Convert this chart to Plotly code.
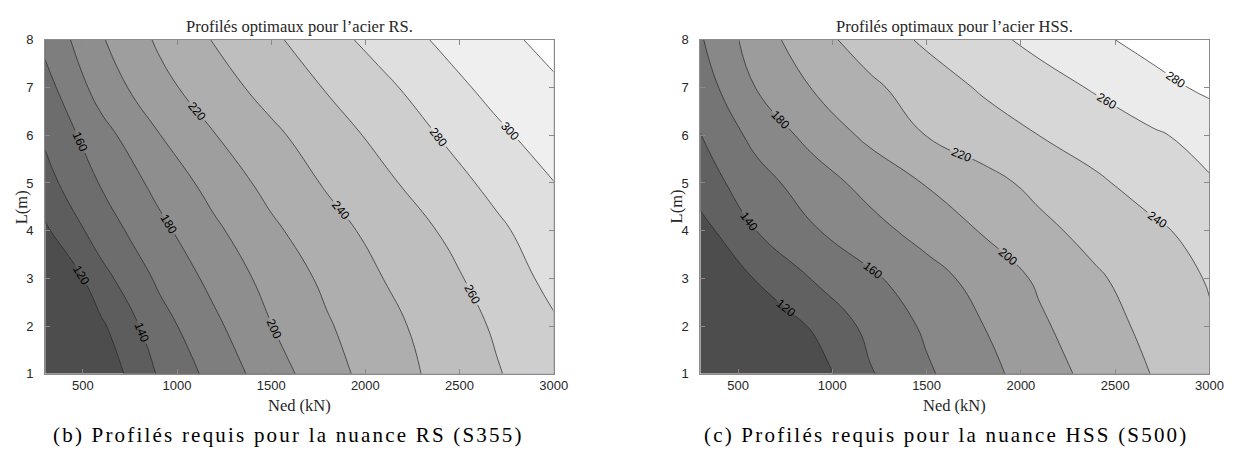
import plotly.graph_objects as go

# ---- data ----
ned_kn = [300, 600, 900, 1200, 1500, 1800, 2100, 2400, 2700, 3000]
length_m = [1, 2, 3, 4, 5, 6, 7, 8]

# Required profile size, steel RS (S355): rows = L (1..8), columns = Ned
z_rs = [
    [80.0, 106.0, 141.6, 166.9, 190.6, 212.7, 230.2, 245.2, 258.7, 272.2],
    [85.0, 117.0, 151.6, 176.0, 199.5, 218.2, 234.1, 248.5, 262.5, 277.5],
    [92.0, 133.7, 163.1, 186.0, 207.0, 224.4, 240.3, 253.7, 269.1, 285.5],
    [116.9, 149.9, 174.4, 196.3, 216.2, 232.6, 247.2, 261.0, 276.3, 291.4],
    [133.3, 161.6, 185.8, 207.7, 226.3, 242.3, 256.3, 271.0, 285.7, 299.6],
    [143.0, 173.0, 199.0, 219.4, 235.9, 250.9, 265.8, 281.0, 296.0, 309.5],
    [153.0, 188.6, 213.4, 231.7, 247.2, 261.5, 275.8, 291.9, 306.6, 317.0],
    [165.0, 198.4, 222.6, 241.3, 256.2, 272.5, 288.4, 302.8, 314.5, 326.1],
]

# Required profile size, steel HSS (S500)
z_hss = [
    [90.0, 100.0, 110.1, 138.3, 157.4, 173.5, 190.5, 206.7, 220.7, 234.0],
    [94.0, 105.0, 122.0, 145.6, 163.1, 179.8, 197.0, 211.8, 225.3, 237.8],
    [102.0, 121.3, 141.2, 156.4, 172.0, 187.6, 203.0, 217.6, 229.7, 241.4],
    [112.8, 140.2, 158.3, 173.2, 187.5, 201.5, 215.2, 226.6, 236.7, 246.7],
    [130.0, 152.2, 170.6, 186.8, 201.2, 213.5, 225.4, 237.1, 247.9, 258.4],
    [139.5, 166.4, 186.5, 204.6, 220.4, 230.2, 240.2, 248.8, 257.6, 266.2],
    [150.0, 180.8, 201.1, 216.1, 229.9, 242.4, 252.1, 262.0, 273.1, 284.2],
    [158.0, 190.3, 212.7, 229.4, 243.1, 254.3, 265.4, 276.3, 287.2, 298.1],
]

levels_rs = (120, 320, 20)
levels_hss = (120, 280, 20)

x_ticks = [500, 1000, 1500, 2000, 2500, 3000]
y_ticks = [1, 2, 3, 4, 5, 6, 7, 8]

title_rs = "Profilés optimaux pour l’acier RS."
title_hss = "Profilés optimaux pour l’acier HSS."
caption_rs = "(b) Profilés requis pour la nuance RS (S355)"
caption_hss = "(c) Profilés requis pour la nuance HSS (S500)"
x_title = "Ned (kN)"
y_title = "L(m)"

# ---- styling ----
gray_scale = [[0.0, "rgb(77,77,77)"], [1.0, "rgb(255,255,255)"]]
serif = "Liberation Serif, DejaVu Serif, serif"
sans = "Liberation Sans, Arial, sans-serif"
tick_color = "#262626"
frame_color = "#8a8a8a"

fig = go.Figure()


def add_contour(z, lv, xa, ya):
    fig.add_trace(go.Contour(
        x=ned_kn, y=length_m, z=z,
        xaxis=xa, yaxis=ya,
        autocontour=False,
        contours=dict(start=lv[0], end=lv[1], size=lv[2], coloring="fill",
                      showlines=True, showlabels=True,
                      labelfont=dict(family=sans, size=12, color="black"),
                      labelformat="d"),
        colorscale=gray_scale,
        line=dict(color="#262626", width=0.7, smoothing=1.3),
        showscale=False,
        hoverinfo="skip",
    ))


add_contour(z_rs, levels_rs, "x", "y")
add_contour(z_hss, levels_hss, "x2", "y2")

W, H = 1238, 464
left_dom = [45.7 / W, 560.0 / W]
right_dom = [708.3 / W, 1223.3 / W]
y_dom = [(H - 379.0) / H, (H - 34.0) / H]

axis_common = dict(
    showgrid=False, zeroline=False, showline=True, linecolor=frame_color,
    linewidth=1, mirror="allticks", ticks="inside", ticklen=5,
    tickcolor=frame_color, tickfont=dict(family=sans, size=13, color=tick_color),
)

fig.update_layout(
    width=W, height=H,
    margin=dict(l=0, r=0, t=0, b=0),
    paper_bgcolor="white", plot_bgcolor="white",
    showlegend=False,
    xaxis=dict(domain=left_dom, range=[300, 3000], tickvals=x_ticks,
               anchor="y", **axis_common),
    yaxis=dict(domain=y_dom, range=[1, 8], tickvals=y_ticks,
               anchor="x", ticklabelstandoff=8, **axis_common),
    xaxis2=dict(domain=right_dom, range=[300, 3000], tickvals=x_ticks,
                anchor="y2", **axis_common),
    yaxis2=dict(domain=y_dom, range=[1, 8], tickvals=y_ticks,
                anchor="x2", ticklabelstandoff=8, **axis_common),
)

ann = []
for dom, title in [(left_dom, title_rs), (right_dom, title_hss)]:
    cx = (dom[0] + dom[1]) / 2
    ann.append(dict(x=cx, y=(H - 20) / H, xref="paper", yref="paper",
                    text=title, showarrow=False, xanchor="center", yanchor="middle",
                    font=dict(family=serif, size=16.5, color="#262626")))
    ann.append(dict(x=cx, y=(H - 412) / H, xref="paper", yref="paper",
                    text=x_title, showarrow=False, xanchor="center", yanchor="middle",
                    font=dict(family=serif, size=16.5, color="#262626")))
    ann.append(dict(x=(dom[0] * W - 24) / W, y=(y_dom[0] + y_dom[1]) / 2,
                    xref="paper", yref="paper", text=y_title, textangle=-90,
                    showarrow=False, xanchor="center", yanchor="middle",
                    font=dict(family=serif, size=16.5, color="#262626")))
cap_x = [52.0 / W, 710.0 / W]
for cx, caption in zip(cap_x, [caption_rs, caption_hss]):
    ann.append(dict(x=cx, y=(H - 442) / H, xref="paper", yref="paper",
                    text='<span style="letter-spacing:2.2px">' + caption + "</span>",
                    showarrow=False, xanchor="left", yanchor="middle",
                    font=dict(family=serif, size=21, color="black")))
fig.update_layout(annotations=ann)

fig.write_html("out.html",
               config={"displayModeBar": False},
               post_script="document.body.style.margin='0px';"
                           "document.body.style.overflow='hidden';")
